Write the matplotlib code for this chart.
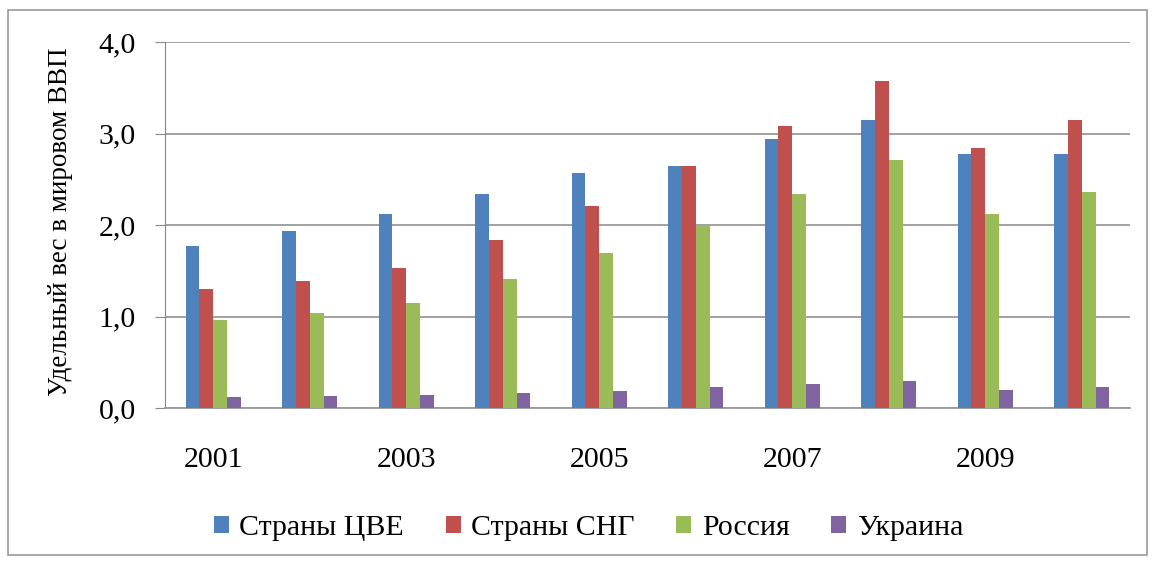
import numpy as np
import matplotlib.pyplot as plt
from matplotlib.patches import Rectangle

plt.rcParams['font.family'] = ['Liberation Serif', 'DejaVu Serif']

# data
years = [2001, 2002, 2003, 2004, 2005, 2006, 2007, 2008, 2009, 2010]
cee = [1.77, 1.94, 2.12, 2.34, 2.57, 2.65, 2.94, 3.15, 2.78, 2.78]
cis = [1.30, 1.39, 1.53, 1.84, 2.21, 2.65, 3.08, 3.57, 2.84, 3.15]
russia = [0.96, 1.04, 1.15, 1.41, 1.69, 2.00, 2.34, 2.71, 2.12, 2.36]
ukraine = [0.12, 0.13, 0.14, 0.16, 0.19, 0.23, 0.26, 0.30, 0.20, 0.23]
series_names = ['Страны ЦВЕ', 'Страны СНГ', 'Россия', 'Украина']
colors = ['#4F81BD', '#C0504D', '#9BBB59', '#8064A2']

fig = plt.figure(figsize=(11.56, 5.61), dpi=100)
ax = fig.add_axes([0.1427, 0.2727, 0.8348, 0.6524])

x = np.arange(len(years))
w = 0.143
for i, (vals, name, c) in enumerate(zip([cee, cis, russia, ukraine], series_names, colors)):
    ax.bar(x + (i - 1.5) * w, vals, width=w, color=c, label=name, zorder=3)

ax.set_xlim(-0.5, len(years) - 0.5)
ax.set_ylim(0, 4)
ax.set_yticks([0, 1, 2, 3, 4])
ax.set_yticklabels(['0,0', '1,0', '2,0', '3,0', '4,0'], fontsize=21.5)
ax.set_xticks(x[::2])
ax.set_xticklabels([str(y) for y in years[::2]], fontsize=21.5)
ax.tick_params(axis='x', length=0, pad=28)
ax.tick_params(axis='y', length=7, color='#888888', pad=14)

ax.grid(axis='y', color='#9a9a9a', linewidth=1.3, zorder=0)
for s in ['top', 'right']:
    ax.spines[s].set_visible(False)
ax.spines['left'].set_color('#888888')
ax.spines['bottom'].set_color('#9a9a9a')
ax.spines['bottom'].set_linewidth(1.3)

ax.set_ylabel('Удельный вес в мировом ВВП', fontsize=19.5)
ax.yaxis.set_label_coords(-0.095, 0.51)

ax.legend(loc='center', bbox_to_anchor=(0.509, 0.058), bbox_transform=fig.transFigure,
          ncol=4, frameon=False, fontsize=21.5, handlelength=0.5, handleheight=0.5,
          handletextpad=0.35, columnspacing=1.4)

# thin frame around the whole chart
fig.patches.append(Rectangle((8 / 1156, 1 - 555 / 561), 1139 / 1156, 545 / 561,
                             transform=fig.transFigure, fill=False,
                             edgecolor='#999999', linewidth=1.2))

fig.savefig('out.png', dpi=100)
